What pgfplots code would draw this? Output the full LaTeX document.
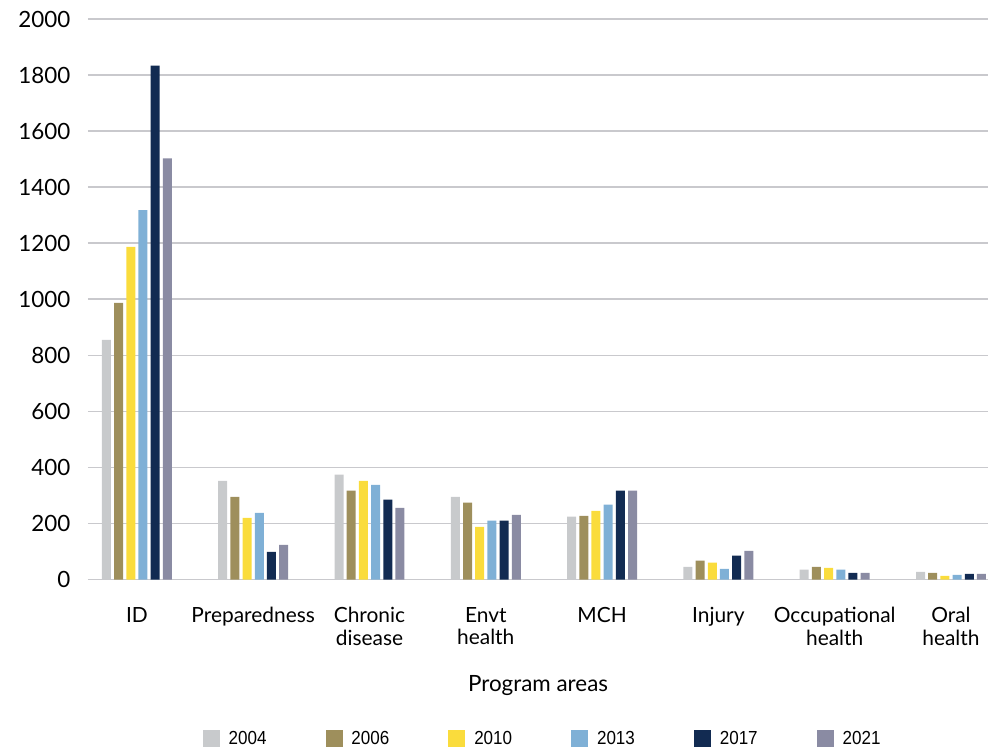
\documentclass[border=0pt]{standalone}
\usepackage{fontspec}
\setmainfont{Lato}
\newfontfamily\legendfont[FakeStretch=0.9]{Liberation Sans}
\usepackage{pgfplots}
\pgfplotsset{compat=1.18}
\usepackage{pgfplotstable}
\definecolor{cA}{HTML}{C8CACC}
\definecolor{cB}{HTML}{9E8F5C}
\definecolor{cC}{HTML}{FADC3C}
\definecolor{cD}{HTML}{7FB0D6}
\definecolor{cE}{HTML}{122B52}
\definecolor{cF}{HTML}{8A8BA3}
\definecolor{gridgray}{HTML}{C9C9CD}
\pgfplotstableread{
x y2004 y2006 y2010 y2013 y2017 y2021
0 855 987 1187 1318 1834 1503
1 352 295 220 238 99 124
2 374 317 352 338 285 256
3 295 274 188 210 210 231
4 224 227 245 267 317 317
5 45 67 60 38 85 102
6 35 45 42 35 24 24
7 27 24 13 17 20 20
}\data
\begin{document}
\begin{tikzpicture}
\begin{axis}[
  scale only axis,
  width=901bp, height=561bp,
  xmin=-0.421, xmax=7.32,
  ymin=0, ymax=2000,
  ytick={0,200,...,2000},
  xtick={0,...,7},
  xticklabels={ID,Preparedness,{Chronic\\disease},{Envt\\health},MCH,Injury,{Occupational\\health},{Oral\\health}},
  axis line style={draw=none},
  major tick length=0pt,
  ymajorgrids,
  grid style={draw=gridgray, line width=1.6bp},
  ybar=3.2bp,
  bar width=9bp,
  clip=false,
  /pgf/number format/assume math mode=true,
  /pgf/number format/1000 sep={},
  yticklabel style={font=\fontsize{22.5}{26}\selectfont, xshift=-14bp},
  xticklabel style={font=\fontsize{21}{23}\selectfont, align=center, anchor=north, yshift=-24bp},
  xlabel={Program areas},
  xlabel style={at={(axis description cs:0.5,-0.189)}, anchor=center, font=\fontsize{22.5}{26}\selectfont},
  legend columns=6,
  legend style={at={(axis description cs:0.124,-0.2834)}, anchor=west, draw=none, font=\legendfont\fontsize{19}{21}\selectfont,
    /tikz/every odd column/.append style={column sep=7bp},
    /tikz/every even column/.append style={column sep=57bp}},
  legend image code/.code={\fill[#1] (0bp,-8.5bp) rectangle (17bp,8.5bp);},
]
\addplot[fill=cA, draw=none] table[x=x,y=y2004]{\data};
\addplot[fill=cB, draw=none] table[x=x,y=y2006]{\data};
\addplot[fill=cC, draw=none] table[x=x,y=y2010]{\data};
\addplot[fill=cD, draw=none] table[x=x,y=y2013]{\data};
\addplot[fill=cE, draw=none] table[x=x,y=y2017]{\data};
\addplot[fill=cF, draw=none] table[x=x,y=y2021]{\data};
\legend{2004,2006,2010,2013,2017,2021}
\path (rel axis cs:0,0) ++(-88bp,-171bp) rectangle ++(989bp,751bp);
\end{axis}
\end{tikzpicture}
\end{document}
